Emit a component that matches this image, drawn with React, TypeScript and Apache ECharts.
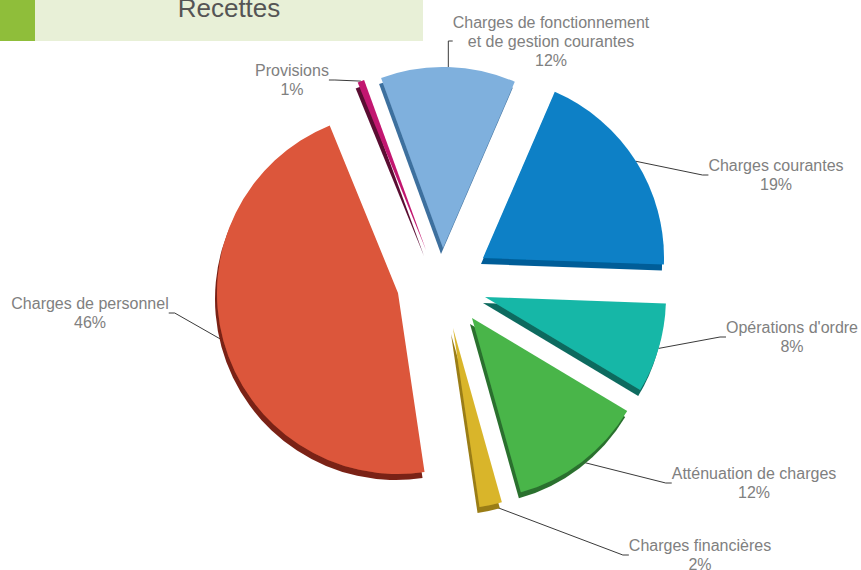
import React, { useEffect, useRef } from "react";
import * as echarts from "echarts";

const CATEGORIES = [
  "Charges de fonctionnement\net de gestion courantes",
  "Charges courantes",
  "Opérations d'ordre",
  "Atténuation de charges",
  "Charges financières",
  "Charges de personnel",
  "Provisions",
];
const VALUES = [12, 19, 8, 12, 2, 46, 0.6];
const TITLE = "Recettes";

// styles / layout (not data)
const COLORS = ["#7fb0dd", "#0b80c6", "#19b7a7", "#48b54a", "#d9b52b", "#dc563a", "#c2166f"];
const SIDE_COLORS = ["#3e6f9e", "#065d98", "#0a6a5e", "#2b6f2d", "#9a7d14", "#7a2117", "#5a0a33"];
const BASE_CENTER = [444, 284];
const EXPLODE = [
  [-1, -36],
  [39, -26],
  [41, 13],
  [28, 34],
  [9, 44],
  [-46, 9],
  [-18, -34],
];
const LABEL_POS = [
  [551, 41],
  [776, 175],
  [792, 337],
  [754, 483],
  [700, 555],
  [90, 313],
  [292, 80],
];

export default function App() {
  const ref = useRef<HTMLDivElement>(null);
  useEffect(() => {
    if (!ref.current) return;
    const chart = echarts.init(ref.current, null, { renderer: "svg" });
    const series = CATEGORIES.map((_, i) => ({
      type: "pie",
      name: "s" + i,
      center: [BASE_CENTER[0] + EXPLODE[i][0], BASE_CENTER[1] + EXPLODE[i][1]],
      radius: 181,
      startAngle: 110,
      clockwise: true,
      avoidLabelOverlap: false,
      silent: true,
      z: 2,
      label: {
        formatter: (p: any) => p.name + "\n" + Math.round(p.percent) + "%",
        color: "#808080",
        fontSize: 16,
        lineHeight: 19,
        fontFamily: "Liberation Sans, Arial, sans-serif",
        align: "center",
      },
      labelLine: {
        length: 10,
        length2: 6,
        lineStyle: { color: "#3a3a3a", width: 1 },
      },
      labelLayout: (p: any) =>
        p.dataIndex === i
          ? { x: LABEL_POS[i][0], y: LABEL_POS[i][1], align: "center", verticalAlign: "middle", hideOverlap: false, moveOverlap: null }
          : {},
      data: VALUES.map((v, j) =>
        j === i
          ? {
              name: CATEGORIES[j],
              value: v,
              itemStyle: {
                color: COLORS[j],
                borderWidth: 0,
                shadowColor: SIDE_COLORS[j],
                shadowOffsetX: -2,
                shadowOffsetY: 6,
                shadowBlur: 0,
              },
              label: { show: true },
              labelLine: { show: true },
            }
          : {
              name: CATEGORIES[j],
              value: v,
              itemStyle: { color: "rgba(0,0,0,0)", borderWidth: 0 },
              label: { show: false },
              labelLine: { show: false },
            }
      ),
    }));
    chart.setOption({
      animation: false,
      backgroundColor: "#ffffff",
      graphic: [
        { type: "rect", shape: { x: 0, y: 0, width: 35, height: 41 }, style: { fill: "#8fbe3a" } },
        { type: "rect", shape: { x: 35, y: 0, width: 388, height: 41 }, style: { fill: "#e8f0d7" } },
        {
          type: "text",
          x: 229,
          y: 8,
          style: {
            text: TITLE,
            fill: "#555555",
            fontSize: 26,
            fontFamily: "Liberation Sans, Arial, sans-serif",
            align: "center",
            verticalAlign: "middle",
          },
        },
      ],
      series,
    });
    return () => chart.dispose();
  }, []);
  return <div ref={ref} style={{ position: "absolute", left: 0, top: 0, width: 861, height: 570 }} />;
}
